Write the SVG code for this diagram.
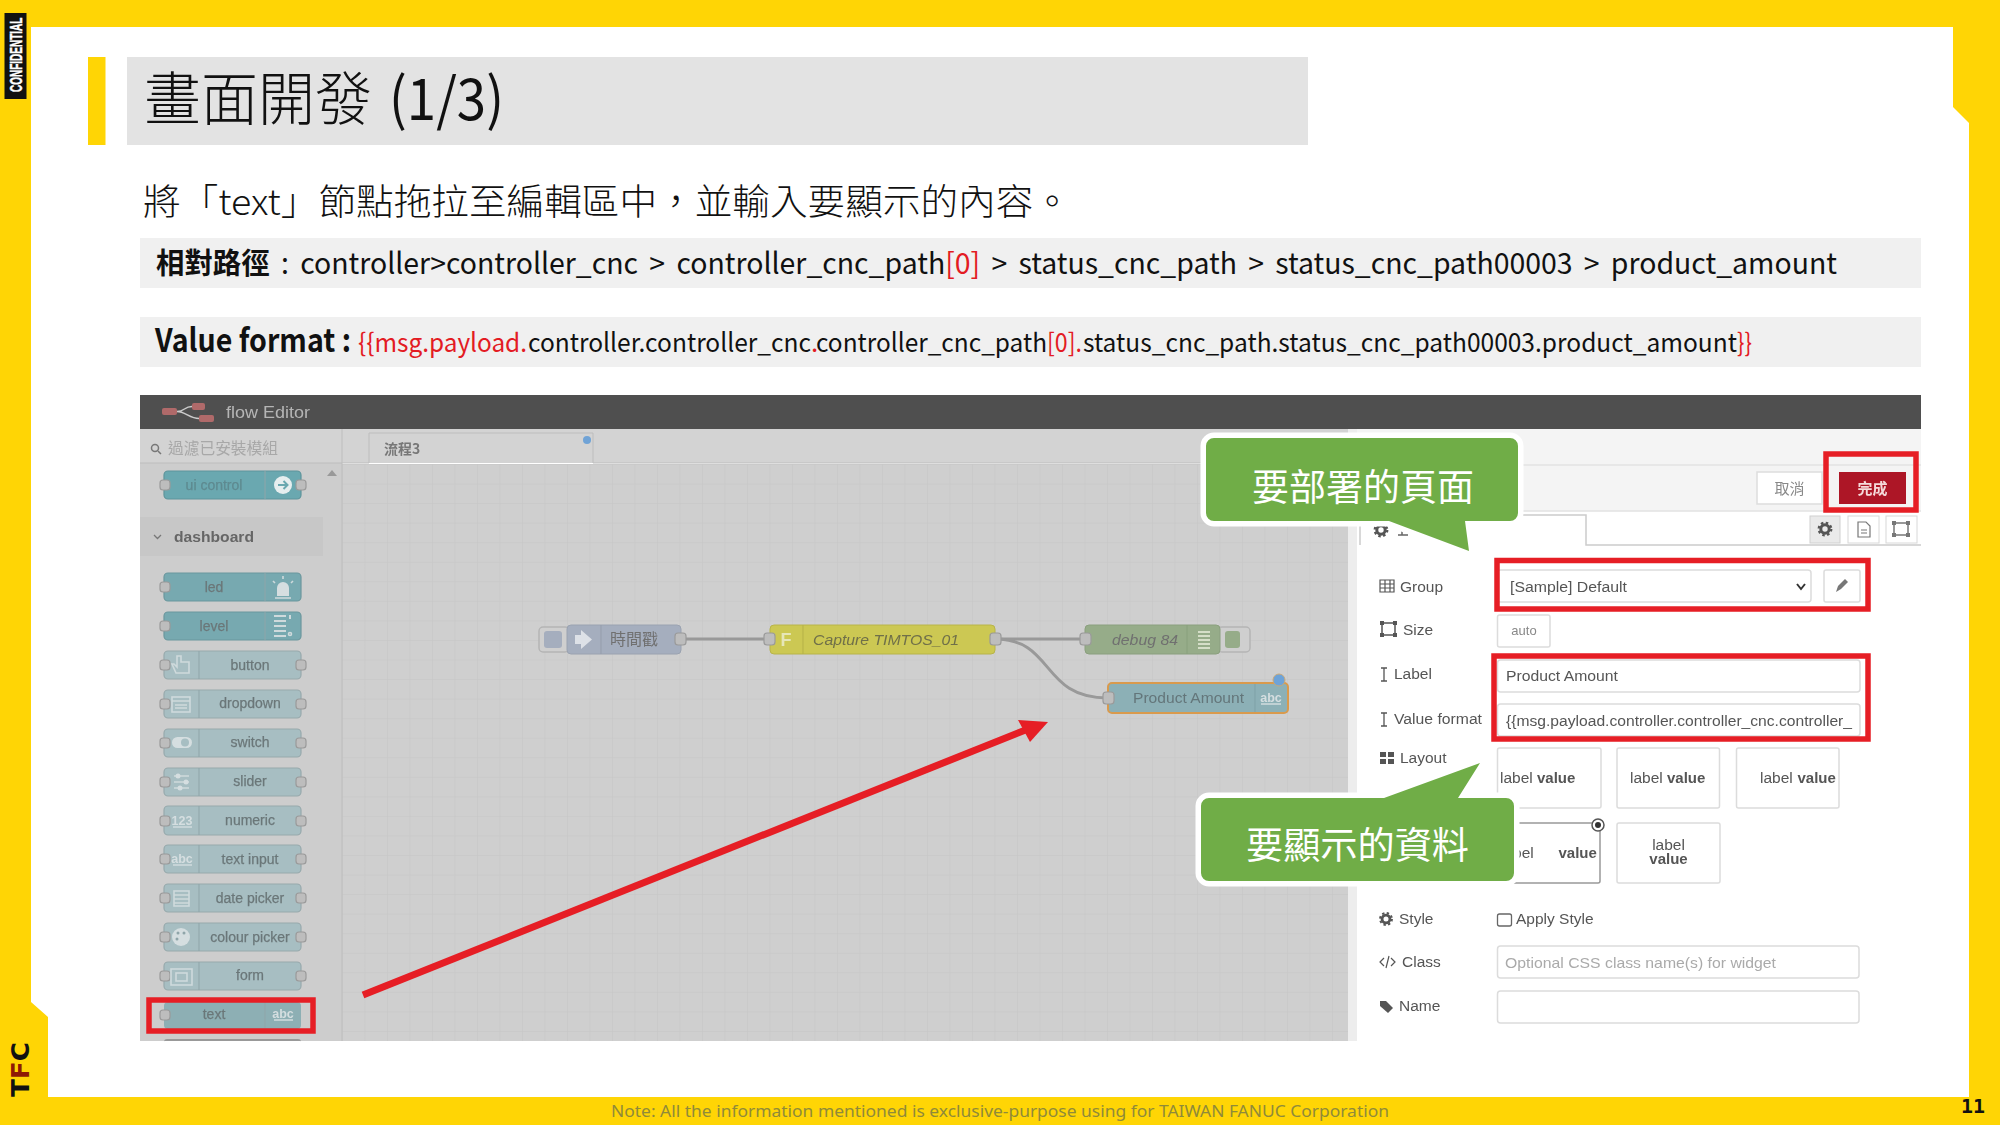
<svg xmlns="http://www.w3.org/2000/svg" width="2000" height="1125" viewBox="0 0 2000 1125">
<style>
.y{fill:#FFD505}
text{font-family:"Noto Sans CJK TC","Noto Sans",sans-serif}
.s{font-family:"Liberation Sans","Noto Sans CJK TC",sans-serif}
.blur{filter:url(#soft)}
.body{font-size:29px;fill:#111;word-spacing:5px}
.red{fill:#E31B23}
.rb{fill:none;stroke:#E61E25;stroke-width:5.5}
.pl{fill:#A7BEC2;stroke:#97A9AC;stroke-width:1.2}
.pd{fill:#77A9B0;stroke:#6B979D;stroke-width:1.2}
.pu{fill:#6BA8B0;stroke:#5E949B;stroke-width:1.2}
.div{stroke:#8FA5A9;stroke-width:1}
.port{fill:#BDBDBD;stroke:#9A9A9A;stroke-width:1.2}
.pt{font-family:"Liberation Sans",sans-serif;font-size:14px;fill:#6B7779;stroke:#6B7779;stroke-width:.25;text-anchor:middle}
.ic{font-family:"Liberation Sans",sans-serif;font-size:12.5px;font-weight:bold;fill:#D5DEE0;text-anchor:middle}
.icl{fill:none;stroke:#CFDADC;stroke-width:1.6}
.icf{fill:#D5DEE0}
.wire{fill:none;stroke:#999;stroke-width:3}
.f{font-family:"Liberation Sans",sans-serif;font-size:15.5px;fill:#555}
.inp{fill:#fff;stroke:#DCDCDC;stroke-width:1.5}
.lv{font-family:"Liberation Sans",sans-serif;font-size:15.5px;fill:#555}
.lvb{font-family:"Liberation Sans",sans-serif;font-size:15px;font-weight:bold;fill:#555}
.cb{fill:#70AD47;stroke:#fff;stroke-width:11;stroke-linejoin:round;paint-order:stroke}
.ct{font-size:37px;fill:#fff}
.ni{font-family:"Liberation Sans",sans-serif;font-size:15px;font-style:italic;fill:#6F6F6F}
.g{fill:#555}
</style>
<defs>
<filter id="soft" x="-2%" y="-2%" width="104%" height="104%"><feGaussianBlur stdDeviation="0.45"/></filter>
<pattern id="grid" patternUnits="userSpaceOnUse" x="342" y="464" width="22.5" height="19.55">
<rect width="22.5" height="19.55" fill="#CFCFCF"/>
<path d="M0 0V19.55M0 0H22.5" stroke="#C6C6C6" stroke-width="1" fill="none"/>
</pattern>
<symbol id="gear" viewBox="-8 -8 16 16" overflow="visible">
<circle r="4.200" fill="none" stroke="#555" stroke-width="3"/>
<circle r="6.300" fill="none" stroke="#555" stroke-width="2.200" stroke-dasharray="2.500 2.450"/>
</symbol>
</defs>

<g id="frame">
<path class="y" fill-rule="evenodd" d="M0 0H2000V1125H0ZM31 27V1002L48 1017V1097H1969V123L1953 107V27Z"/>
<rect x="4.500" y="13" width="22" height="86" fill="#111"/>
<text transform="translate(21.500,92) rotate(-90) scale(1,1.600)" font-size="10" font-weight="bold" fill="#fff" stroke="#fff" stroke-width=".3" class="s">CONFIDENTIAL</text>
<text transform="translate(29,1097) rotate(-90)" font-size="24.600" font-weight="bold" fill="#111" style="font-family:'DejaVu Sans',sans-serif" textLength="55" lengthAdjust="spacingAndGlyphs">T<tspan fill="#8E1A05">F</tspan>C</text>
<text x="611" y="1117" font-size="17" fill="#8F8A3A" style="font-family:'Noto Sans',sans-serif" textLength="778" lengthAdjust="spacingAndGlyphs">Note: All the information mentioned is exclusive-purpose using for TAIWAN FANUC Corporation</text>
<text x="1961" y="1113" font-size="20" font-weight="bold" fill="#111" style="font-family:'DejaVu Sans Mono',monospace" textLength="24" lengthAdjust="spacingAndGlyphs">11</text>
</g>

<g id="title">
<rect class="y" x="88" y="57" width="17.500" height="88"/>
<rect x="127" y="57" width="1181" height="88" fill="#E3E3E3"/>
<text x="144" y="120" font-size="58" font-weight="300" fill="#111" textLength="228" lengthAdjust="spacingAndGlyphs">畫面開發</text>
<text x="389" y="120" font-size="58" fill="#111" textLength="115" lengthAdjust="spacingAndGlyphs">(1/3)</text>
</g>

<g id="instructions">
<text x="143" y="215" font-size="36" font-weight="300" fill="#111" textLength="928" lengthAdjust="spacingAndGlyphs">將「text」節點拖拉至編輯區中，並輸入要顯示的內容。</text>
<rect x="140" y="238" width="1781" height="50" fill="#F0F0F0"/>
<text x="156" y="274" class="body" textLength="1681" lengthAdjust="spacingAndGlyphs"><tspan font-weight="bold">相對路徑</tspan> : controller&gt;controller_cnc &gt; controller_cnc_path<tspan class="red">[0]</tspan> &gt; status_cnc_path &gt; status_cnc_path00003 &gt; product_amount</text>
<rect x="140" y="317" width="1781" height="50" fill="#F0F0F0"/>
<text x="155" y="352" font-size="32" font-weight="bold" fill="#111" textLength="196" lengthAdjust="spacingAndGlyphs">Value format :</text>
<text x="358" y="352" font-size="26" class="red" textLength="169" lengthAdjust="spacingAndGlyphs">{{msg.payload.</text>
<text x="528" y="352" font-size="26" fill="#111" textLength="283" lengthAdjust="spacingAndGlyphs">controller.controller_cnc</text>
<text x="811" y="352" font-size="26" class="red">.</text>
<text x="816" y="352" font-size="26" fill="#111" textLength="231" lengthAdjust="spacingAndGlyphs">controller_cnc_path</text>
<text x="1047" y="352" font-size="26" class="red" textLength="35" lengthAdjust="spacingAndGlyphs">[0].</text>
<text x="1083" y="352" font-size="26" fill="#111" textLength="654" lengthAdjust="spacingAndGlyphs">status_cnc_path.status_cnc_path00003.product_amount</text>
<text x="1737" y="352" font-size="26" class="red" textLength="15" lengthAdjust="spacingAndGlyphs">}}</text>
</g>

<g id="editor-chrome" class="blur">
<rect x="140" y="395" width="1781" height="34" fill="#505050"/>
<path d="M177 411.500C185 411.500 184 406.500 192 406.500M177 411.500C185 411.500 190 418.500 199 418.500" fill="none" stroke="#ccc" stroke-width="1.500"/>
<rect x="162" y="408" width="15" height="7" rx="2" fill="#B06A6A"/>
<rect x="192" y="403" width="13" height="7" rx="2" fill="#B06A6A"/>
<rect x="199" y="415" width="15" height="7" rx="2" fill="#B06A6A"/>
<text x="226" y="418" class="s" font-size="17" fill="#B5B5B5" textLength="84" lengthAdjust="spacingAndGlyphs">flow Editor</text>
<rect x="140" y="429" width="202" height="612" fill="#CDCDCD"/>
<rect x="342" y="464" width="1008" height="577" fill="url(#grid)"/>
<rect x="140" y="429" width="1210" height="34" fill="#D3D3D3"/>
<path d="M140 463H369M593 463H1350M342 429V1041" stroke="#BDBDBD" fill="none"/>
<circle cx="155" cy="448" r="3.500" fill="none" stroke="#777" stroke-width="1.500"/><path d="M158 451L161 454" stroke="#777" stroke-width="1.500"/>
<text x="168" y="454" font-size="15.500" fill="#A8A8A8" textLength="110" lengthAdjust="spacingAndGlyphs">過濾已安裝模組</text>
<path d="M369 463V433H593V463" fill="#D3D3D3" stroke="#BDBDBD"/>
<text x="384" y="454" font-size="14" font-weight="bold" fill="#777">流程3</text>
<circle cx="587" cy="440" r="4" fill="#6FA3D6"/>
<path d="M327 476L332 470L337 476Z" fill="#999"/>
<rect x="140" y="517" width="183" height="39" fill="#C7C7C7"/>
<path d="M154 535L157.500 538.500L161 535" fill="none" stroke="#777" stroke-width="1.300"/>
<text x="174" y="542" class="s" font-size="15" font-weight="bold" fill="#666" textLength="80" lengthAdjust="spacingAndGlyphs">dashboard</text>
</g>

<g id="palette" class="blur">
<g id="p-ui-control"><rect class="pu" x="164" y="471" width="137" height="28" rx="4"/><path class="div" d="M265 471V499"/><rect class="port" x="160" y="480" width="10" height="10" rx="3"/><rect class="port" x="296" y="480" width="10" height="10" rx="3"/><text class="pt" x="214" y="490" style="fill:#5E8A90;stroke:#5E8A90">ui control</text><circle cx="283" cy="485" r="9" fill="#E6EEEF"/><path d="M278 485H287M283.500 481L287.500 485L283.500 489" fill="none" stroke="#6BA8B0" stroke-width="2"/></g>
<g id="p-led"><rect class="pd" x="164" y="573" width="137" height="28" rx="4"/><path class="div" d="M265 573V601"/><rect class="port" x="160" y="582" width="10" height="10" rx="3"/><text class="pt" x="214" y="592">led</text><path class="icf" d="M277 596V588a6 6 0 0 1 12 0V596Z"/><path class="icl" d="M275 598H291M283 576V579M273 581L275 583M293 581L291 583"/></g>
<g id="p-level"><rect class="pd" x="164" y="612" width="137" height="28" rx="4"/><path class="div" d="M265 612V640"/><rect class="port" x="160" y="621" width="10" height="10" rx="3"/><text class="pt" x="214" y="631">level</text><path class="icl" style="stroke-width:2" d="M274 616H286M274 621H286M274 626H286M274 631H286M274 636H286M290 615V619"/><circle class="icl" cx="290" cy="634" r="1.500"/></g>
<g id="p-button"><rect class="pl" x="164" y="651" width="137" height="28" rx="4"/><path class="div" d="M199 651V679"/><rect class="port" x="160" y="660" width="10" height="10" rx="3"/><rect class="port" x="296" y="660" width="10" height="10" rx="3"/><text class="pt" x="250" y="670">button</text><path class="icl" d="M177 656V667L174 664H172L176 673H189V662H181V656Z"/></g>
<g id="p-dropdown"><rect class="pl" x="164" y="690" width="137" height="28" rx="4"/><path class="div" d="M199 690V718"/><rect class="port" x="160" y="699" width="10" height="10" rx="3"/><rect class="port" x="296" y="699" width="10" height="10" rx="3"/><text class="pt" x="250" y="708">dropdown</text><rect class="icl" x="172" y="697" width="18" height="15"/><path class="icl" d="M172 701H190M175 705H187M175 708H187"/></g>
<g id="p-switch"><rect class="pl" x="164" y="729" width="137" height="28" rx="4"/><path class="div" d="M199 729V757"/><rect class="port" x="160" y="738" width="10" height="10" rx="3"/><rect class="port" x="296" y="738" width="10" height="10" rx="3"/><text class="pt" x="250" y="747">switch</text><rect class="icf" x="172" y="737" width="20" height="11" rx="5.500"/><circle cx="185" cy="742.500" r="4" fill="#A7BEC2"/></g>
<g id="p-slider"><rect class="pl" x="164" y="768" width="137" height="28" rx="4"/><path class="div" d="M199 768V796"/><rect class="port" x="160" y="777" width="10" height="10" rx="3"/><rect class="port" x="296" y="777" width="10" height="10" rx="3"/><text class="pt" x="250" y="786">slider</text><path class="icl" d="M174 776H189M174 782H189M174 788H189"/><circle class="icf" cx="178" cy="776" r="2.500"/><circle class="icf" cx="186" cy="782" r="2.500"/><circle class="icf" cx="180" cy="788" r="2.500"/></g>
<g id="p-numeric"><rect class="pl" x="164" y="806" width="137" height="29" rx="4"/><path class="div" d="M199 806V835"/><rect class="port" x="160" y="816" width="10" height="10" rx="3"/><rect class="port" x="296" y="816" width="10" height="10" rx="3"/><text class="pt" x="250" y="825">numeric</text><text class="ic" x="182" y="825">123</text><path class="icl" d="M173 827H192"/></g>
<g id="p-text-input"><rect class="pl" x="164" y="845" width="137" height="28" rx="4"/><path class="div" d="M199 845V873"/><rect class="port" x="160" y="854" width="10" height="10" rx="3"/><rect class="port" x="296" y="854" width="10" height="10" rx="3"/><text class="pt" x="250" y="864">text input</text><text class="ic" x="182" y="863">abc</text><path class="icl" d="M173 865H192"/></g>
<g id="p-date-picker"><rect class="pl" x="164" y="884" width="137" height="28" rx="4"/><path class="div" d="M199 884V912"/><rect class="port" x="160" y="893" width="10" height="10" rx="3"/><rect class="port" x="296" y="893" width="10" height="10" rx="3"/><text class="pt" x="250" y="903">date picker</text><rect class="icl" x="174" y="891" width="15" height="15"/><path class="icl" d="M174 895H189M174 899H189M174 903H189"/></g>
<g id="p-colour-picker"><rect class="pl" x="164" y="923" width="137" height="28" rx="4"/><path class="div" d="M199 923V951"/><rect class="port" x="160" y="932" width="10" height="10" rx="3"/><rect class="port" x="296" y="932" width="10" height="10" rx="3"/><text class="pt" x="250" y="942">colour picker</text><circle class="icf" cx="181" cy="937" r="9"/><circle cx="178" cy="933" r="1.500" fill="#8FA5A9"/><circle cx="184" cy="933" r="1.500" fill="#8FA5A9"/><circle cx="177" cy="939" r="1.500" fill="#8FA5A9"/></g>
<g id="p-form"><rect class="pl" x="164" y="962" width="137" height="28" rx="4"/><path class="div" d="M199 962V990"/><rect class="port" x="160" y="971" width="10" height="10" rx="3"/><rect class="port" x="296" y="971" width="10" height="10" rx="3"/><text class="pt" x="250" y="980">form</text><rect class="icl" x="171" y="969" width="21" height="16"/><rect class="icl" x="176" y="973" width="11" height="8"/></g>
<g id="p-text"><rect x="164" y="1002" width="137" height="27" rx="4" fill="#8DAFB4"/><path class="div" d="M265 1002V1029"/><rect class="port" x="160" y="1010" width="10" height="10" rx="3"/><text class="pt" x="214" y="1019">text</text><text class="ic" x="283" y="1018">abc</text><path class="icl" d="M274 1020H293"/></g>
<path d="M164 1041V1042a3 3 0 0 1 3-3H298a3 3 0 0 1 3 3V1041Z" fill="#999"/>
</g>

<g id="connectors" class="blur">
<path class="wire" d="M681 639H770"/>
<path class="wire" d="M995 639H1085"/>
<path class="wire" d="M995 639C1055 639 1040 698 1108 698"/>
</g>

<g id="n-inject" class="blur"><rect x="539" y="627" width="30" height="25" rx="4" fill="#CFCFCF" stroke="#B5B5B5" stroke-width="1.500"/><rect x="544" y="631" width="18" height="17" rx="3" fill="#A5AEBE"/><rect x="567" y="625" width="114" height="29" rx="4" fill="#A5AEBE" stroke="#9AA2B0"/><path d="M601 625V654" stroke="#959DAB"/><path d="M575 635H581V630L592 639.500L581 649V644H575Z" fill="#DDE1E7"/><text x="610" y="645" font-size="16" fill="#707070" textLength="48" lengthAdjust="spacingAndGlyphs">時間戳</text><rect class="port" x="675" y="633" width="11" height="12" rx="3"/></g>
<g id="n-function" class="blur"><rect x="770" y="625" width="225" height="29" rx="4" fill="#CCC852" stroke="#B8B44A"/><path d="M803 625V654" stroke="#B5B14A"/><text x="786" y="646" class="s" font-size="18" font-weight="bold" fill="#E6E6B8" text-anchor="middle">F</text><text x="813" y="645" class="ni" textLength="146" lengthAdjust="spacingAndGlyphs" style="fill:#6F6F4A">Capture TIMTOS_01</text><rect class="port" x="764" y="633" width="11" height="12" rx="3"/><rect class="port" x="990" y="633" width="11" height="12" rx="3"/></g>
<g id="n-debug" class="blur"><rect x="1218" y="627" width="32" height="25" rx="4" fill="#CFCFCF" stroke="#B5B5B5" stroke-width="1.500"/><rect x="1225" y="631" width="15" height="17" rx="3" fill="#96AC89"/><rect x="1085" y="625" width="135" height="29" rx="4" fill="#96AC89" stroke="#8A9F7E"/><path d="M1187 625V654" stroke="#88A07C"/><path d="M1198 632H1210M1198 636H1210M1198 640H1210M1198 644H1210M1198 648H1210" stroke="#D5DEC8" stroke-width="1.800"/><text x="1112" y="645" class="ni" textLength="66" lengthAdjust="spacingAndGlyphs">debug 84</text><rect class="port" x="1080" y="633" width="11" height="12" rx="3"/></g>
<g id="n-product-amount" class="blur"><rect x="1108" y="683" width="180" height="30" rx="4" fill="#8CB0B6" stroke="#D99A4E" stroke-width="2"/><path d="M1255 684V712" stroke="#7EA1A7"/><text x="1133" y="703" class="s" font-size="15" fill="#64767A" textLength="111" lengthAdjust="spacingAndGlyphs">Product Amount</text><text class="ic" x="1271" y="702">abc</text><path class="icl" d="M1261 704H1281"/><rect class="port" x="1103" y="692" width="11" height="12" rx="3"/><circle cx="1279" cy="680" r="6" fill="#6EA3D8" stroke="#C9A878"/></g>

<g id="panel" class="blur">
<rect x="1348" y="429" width="9" height="612" fill="#EDEDED"/>
<rect x="1357" y="429" width="564" height="612" fill="#fff"/>
<rect x="1357" y="429" width="564" height="82" fill="#F4F4F4"/>
<path d="M1357 465H1921M1357 511H1921" stroke="#E2E2E2" stroke-width="1.500"/>
<rect x="1757" y="472" width="65" height="32" fill="#fff" stroke="#DDD" stroke-width="1.500"/>
<text x="1789.500" y="494" font-size="15" fill="#888" text-anchor="middle">取消</text>
<rect id="done" x="1839" y="472" width="67" height="32" fill="#AD1625"/>
<text x="1872.500" y="494" font-size="15" font-weight="bold" fill="#F5DADA" text-anchor="middle">完成</text>
<path d="M1360 545V515H1586V545H1921" fill="#fff" stroke="#CCC" stroke-width="1.500"/>
<use href="#gear" x="1373" y="522" width="16" height="16"/>
<path d="M1398 535H1408M1402 531V535" stroke="#666" stroke-width="1.500" fill="none"/>
<rect x="1810" y="516" width="30" height="27" fill="#EAEAEA" stroke="#D0D0D0"/><use href="#gear" x="1817" y="521" width="16" height="16"/>
<rect x="1848" y="516" width="31" height="27" fill="#fff" stroke="#D8D8D8"/><path d="M1858 522H1866L1870 526V537H1858Z M1861 530H1867M1861 533H1867" fill="none" stroke="#777" stroke-width="1.200"/>
<rect x="1886" y="516" width="31" height="27" fill="#fff" stroke="#D8D8D8"/><rect x="1894" y="523" width="14" height="12" fill="none" stroke="#777" stroke-width="1.500"/><rect x="1892" y="521" width="4" height="4" fill="#777"/><rect x="1906" y="521" width="4" height="4" fill="#777"/><rect x="1892" y="533" width="4" height="4" fill="#777"/><rect x="1906" y="533" width="4" height="4" fill="#777"/>

<g id="f-group"><path d="M1380 580H1394V592H1380ZM1380 584H1394M1380 588H1394M1385 580V592M1390 580V592" fill="none" stroke="#555" stroke-width="1.200"/><text class="f" x="1400" y="592">Group</text><rect class="inp" x="1497.500" y="570" width="313.500" height="32" rx="3"/><text class="f" x="1510" y="592" textLength="117" lengthAdjust="spacingAndGlyphs">[Sample] Default</text><path d="M1797 584L1801 589L1805 584" fill="none" stroke="#333" stroke-width="2"/><rect class="inp" x="1824" y="570" width="36" height="32" rx="2"/><path d="M1836 592L1838 586L1845 579L1848 582L1841 589Z" fill="#777"/></g>
<g id="f-size"><rect x="1382" y="623" width="13" height="12" fill="none" stroke="#555" stroke-width="1.500"/><rect x="1380" y="621" width="4" height="4" class="g"/><rect x="1393" y="621" width="4" height="4" class="g"/><rect x="1380" y="633" width="4" height="4" class="g"/><rect x="1393" y="633" width="4" height="4" class="g"/><text class="f" x="1403" y="635">Size</text><rect class="inp" x="1497.500" y="615" width="52.500" height="32" rx="2"/><text x="1524" y="635" class="s" font-size="13" fill="#888" text-anchor="middle">auto</text></g>
<g id="f-label"><path d="M1381 668H1387M1381 681H1387M1384 668V681" stroke="#555" stroke-width="1.300" fill="none"/><text class="f" x="1394" y="679">Label</text><rect class="inp" x="1497.500" y="660" width="362.500" height="32" rx="3"/><text class="f" x="1506" y="681" textLength="112" lengthAdjust="spacingAndGlyphs">Product Amount</text></g>
<g id="f-value"><path d="M1381 713H1387M1381 726H1387M1384 713V726" stroke="#555" stroke-width="1.300" fill="none"/><text class="f" x="1394" y="724" textLength="88" lengthAdjust="spacingAndGlyphs">Value format</text><rect class="inp" x="1497.500" y="704" width="362.500" height="32" rx="3"/><text class="f" x="1506" y="726" textLength="346" lengthAdjust="spacingAndGlyphs">{{msg.payload.controller.controller_cnc.controller_</text></g>
<g id="f-layout"><path d="M1380 752H1386V757H1380ZM1388 752H1394V757H1388ZM1380 759H1386V764H1380ZM1388 759H1394V764H1388Z" class="g"/><text class="f" x="1400" y="763">Layout</text>
<rect class="inp" x="1497.500" y="748" width="103.500" height="60" rx="2"/><text class="lv" x="1500" y="783">label</text><text class="lvb" x="1537" y="783">value</text>
<rect class="inp" x="1617" y="748" width="102.500" height="60" rx="2"/><text class="lv" x="1630" y="783">label</text><text class="lvb" x="1667" y="783">value</text>
<rect class="inp" x="1736.500" y="748" width="102.500" height="60" rx="2"/><text class="lv" x="1760" y="783">label</text><text class="lvb" x="1797.500" y="783">value</text>
<rect x="1497.500" y="823" width="102.500" height="60" rx="2" fill="#fff" stroke="#999" stroke-width="1.500"/><text class="lv" x="1501" y="858">label</text><text class="lvb" x="1558.500" y="858">value</text><circle cx="1598" cy="825" r="6" fill="#fff" stroke="#555" stroke-width="1.500"/><circle cx="1598" cy="825" r="3" fill="#333"/>
<rect class="inp" x="1617" y="823" width="103" height="60" rx="2"/><text class="lv" x="1668.500" y="850" text-anchor="middle">label</text><text class="lvb" x="1668.500" y="864" text-anchor="middle">value</text></g>
<g id="f-style"><use href="#gear" x="1378.500" y="911.500" width="15" height="15"/><text class="f" x="1399" y="924">Style</text><rect x="1497.500" y="914" width="14" height="12" rx="2" fill="#fff" stroke="#666" stroke-width="1.300"/><text class="f" x="1516" y="924">Apply Style</text></g>
<g id="f-class"><path d="M1384 958L1380 962L1384 966M1391 958L1395 962L1391 966M1389 956L1386 968" fill="none" stroke="#555" stroke-width="1.200"/><text class="f" x="1402" y="967">Class</text><rect class="inp" x="1497.500" y="946" width="361.500" height="32" rx="3"/><text class="s" x="1505" y="968" font-size="14.500" fill="#AAA" textLength="271" lengthAdjust="spacingAndGlyphs">Optional CSS class name(s) for widget</text></g>
<g id="f-name"><path d="M1380 1001H1386L1393 1008L1388 1013L1380 1006Z" class="g"/><text class="f" x="1399" y="1011">Name</text><rect class="inp" x="1497.500" y="991" width="361.500" height="32" rx="3"/></g>
</g>

<g id="highlights">
<rect class="rb" x="149" y="1000" width="164" height="31"/>
<rect class="rb" x="1826" y="454" width="90" height="56"/>
<rect class="rb" x="1497" y="560.500" width="371" height="48.500"/>
<rect class="rb" x="1494" y="656" width="374" height="83"/>
<g id="arrow"><path d="M363 995L1028 729" fill="none" stroke="#E61E25" stroke-width="7"/><path d="M1018 720L1048 722L1030 742Z" fill="#E61E25"/></g>
</g>

<g id="callout-page">
<path class="cb" d="M1214 438H1510a8 8 0 0 1 8 8V513a8 8 0 0 1-8 8H1465L1469 551L1389 521H1214a8 8 0 0 1-8-8V446a8 8 0 0 1 8-8Z"/>
<text class="ct" x="1252" y="501" textLength="222" lengthAdjust="spacingAndGlyphs">要部署的頁面</text>
</g>
<g id="callout-data">
<path class="cb" d="M1209 798H1384L1480 763L1458 798H1506a8 8 0 0 1 8 8V873a8 8 0 0 1-8 8H1209a8 8 0 0 1-8-8V806a8 8 0 0 1 8-8Z"/>
<text class="ct" x="1246" y="859" textLength="223" lengthAdjust="spacingAndGlyphs">要顯示的資料</text>
</g>
</svg>
